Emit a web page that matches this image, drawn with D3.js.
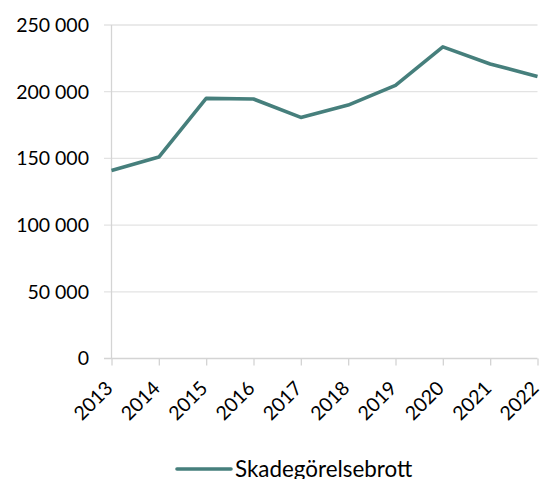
<!DOCTYPE html>
<html><head><meta charset="utf-8">
<script src="https://cdn.jsdelivr.net/npm/d3@7"></script>
<style>body{margin:0;background:#fff}svg{display:block}text{font-family:Lato,"Open Sans",sans-serif;fill:#000}</style>
</head><body>
<script>
const years = ["2013","2014","2015","2016","2017","2018","2019","2020","2021","2022"];
const values = [141000,151000,195000,194500,180700,190000,204700,233600,220800,211400];
const yTicks = [0,50000,100000,150000,200000,250000];
const seriesName = "Skadegörelsebrott";

const W=544,H=479;
const svg=d3.select("body").append("svg").attr("width",W).attr("height",H);
const x=d3.scalePoint().domain(years).range([111.5,537.5]);
const y=d3.scaleLinear().domain([0,250000]).range([358.5,25]);
const fmt=d=>d3.format(",")(d).replace(/,/g," ");

// gridlines
svg.append("g").selectAll("line").data(yTicks.filter(d=>d>0)).join("line")
 .attr("x1",104).attr("x2",537.5).attr("y1",d=>y(d)).attr("y2",d=>y(d))
 .attr("stroke","#e3e3e3").attr("stroke-width",1.3);
// y axis line
svg.append("line").attr("x1",111.5).attr("x2",111.5).attr("y1",25).attr("y2",358.5)
 .attr("stroke","#d4d4d4").attr("stroke-width",1.3);
// x axis
const xa=svg.append("g").attr("transform","translate(0,358.5)")
 .call(d3.axisBottom(x).tickSize(7).tickSizeOuter(0).tickFormat(""));
xa.select(".domain").attr("stroke","#d4d4d4").attr("stroke-width",1.3).attr("d","M104,0H537.5");
xa.selectAll(".tick line").attr("stroke","#d4d4d4").attr("stroke-width",1.3);
xa.selectAll(".tick").append("text").text(d=>d)
 .attr("transform","translate(2,31) rotate(-45)")
 .attr("text-anchor","end")
 .style("font-size","19.5px").attr("fill","#000");
// y labels
svg.append("g").selectAll("text").data(yTicks).join("text")
 .attr("x",89).attr("y",d=>y(d)).attr("dy","0.35em").attr("text-anchor","end")
 .style("font-size","19.5px").text(fmt);
// line
svg.append("path").datum(values)
 .attr("d",d3.line().x((d,i)=>x(years[i])).y(d=>y(d)))
 .attr("fill","none").attr("stroke","#467f7c").attr("stroke-width",3.6).attr("stroke-linejoin","round");
// legend
svg.append("line").attr("x1",177).attr("x2",231).attr("y1",469).attr("y2",469)
 .attr("stroke","#467f7c").attr("stroke-width",3.6).attr("stroke-linecap","round");
svg.append("text").attr("x",235).attr("y",476.5).style("font-size","22.4px").text(seriesName);
</script>
</body></html>
